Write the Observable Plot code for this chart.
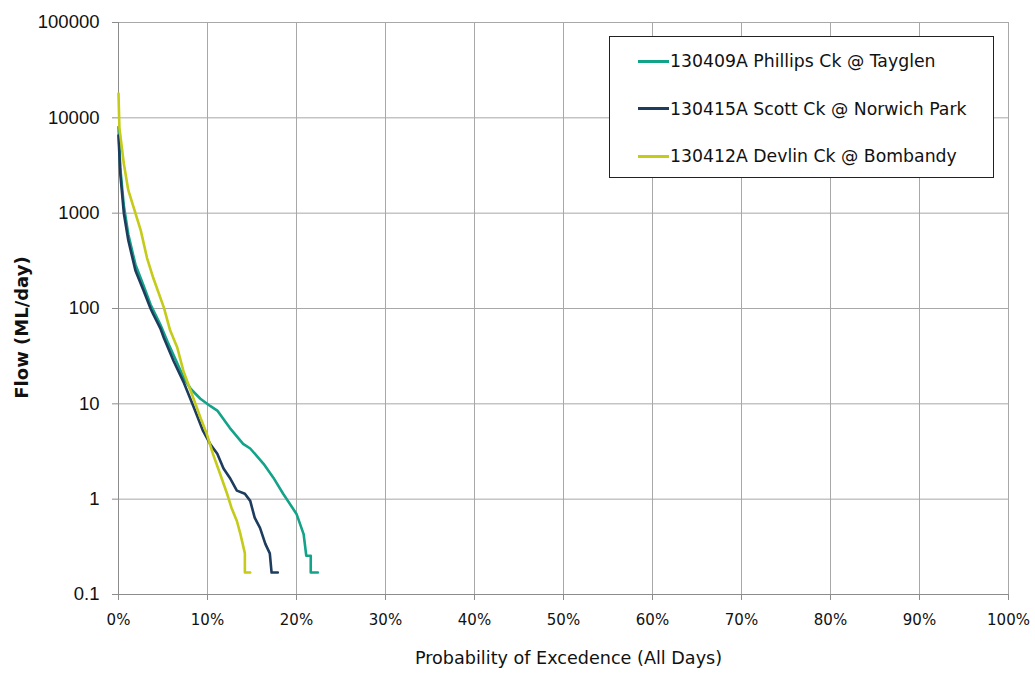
<!DOCTYPE html>
<html>
<head>
<meta charset="utf-8">
<script src="https://cdn.jsdelivr.net/npm/d3@7"></script>
<script src="https://cdn.jsdelivr.net/npm/@observablehq/plot@0.6"></script>
<style>
  html, body { margin: 0; padding: 0; background: white; }
  #wrap { position: relative; width: 1035px; height: 679px; }
  #legend { position: absolute; left: 609px; top: 36px; width: 383px; height: 140px;
    border: 1px solid #222; background: white; font-family: 'DejaVu Sans', sans-serif; font-size: 17.3px; color: #111; }
  .row { position: absolute; left: 28px; display: flex; align-items: center; height: 24px; white-space: nowrap; }
  .sw { width: 31px; height: 3px; margin-right: 1px; }
</style>
</head>
<body>
<div id="wrap"><div id="legend"></div></div>
<script>
const seriesNames = ["130409A Phillips Ck @ Tayglen", "130415A Scott Ck @ Norwich Park", "130412A Devlin Ck @ Bombandy"];
const seriesColors = ["#13a388", "#1d3c5e", "#c4cb18"];

const phillipsP = [0, 0.2, 0.6, 1.1, 1.9, 2.8, 3.6, 4.7, 5.5, 6.5, 7.3, 8.1, 9.2, 10.3, 11.1, 12.5, 14.0, 14.8, 16.3, 17.4, 18.5, 20.0, 20.8, 21.1, 21.6, 21.6, 22.4];
const phillipsQ = [8000, 3000, 1200, 600, 290, 175, 110, 68, 45, 28, 19, 14.4, 11.3, 9.5, 8.5, 5.6, 3.8, 3.4, 2.35, 1.68, 1.14, 0.7, 0.43, 0.255, 0.255, 0.17, 0.17];

const scottP = [0, 0.2, 0.6, 1.1, 1.9, 2.8, 3.6, 3.9, 4.7, 5.1, 6.2, 7.3, 8.4, 9.5, 10.3, 11.1, 11.8, 12.5, 13.3, 14.2, 14.8, 15.3, 15.9, 16.5, 17.0, 17.2, 17.9];
const scottQ = [6500, 2600, 1000, 520, 250, 155, 100, 87, 62, 49, 28, 17, 9.5, 5.2, 3.8, 3.0, 2.1, 1.68, 1.23, 1.14, 0.96, 0.64, 0.5, 0.34, 0.27, 0.17, 0.17];

const devlinP = [0, 0.1, 0.6, 1.1, 1.7, 2.5, 3.2, 3.9, 5.1, 5.8, 6.6, 7.3, 8.1, 9.2, 9.9, 10.6, 11.4, 12.2, 12.7, 13.3, 13.7, 14.2, 14.2, 14.8];
const devlinQ = [18000, 7900, 3300, 1740, 1150, 660, 340, 210, 102, 59, 39, 22, 13.8, 7.2, 4.9, 3.0, 1.86, 1.14, 0.81, 0.59, 0.43, 0.27, 0.17, 0.17];

const xTicks = [0, 10, 20, 30, 40, 50, 60, 70, 80, 90, 100];
const yTicks = [0.1, 1, 10, 100, 1000, 10000, 100000];

const allP = [phillipsP, scottP, devlinP];
const allQ = [phillipsQ, scottQ, devlinQ];
const data = [];
seriesNames.forEach((name, i) => {
  allP[i].forEach((p, j) => data.push({series: name, p, q: allQ[i][j]}));
});

const chart = Plot.plot({
  width: 1035, height: 679,
  marginLeft: 118, marginRight: 27, marginTop: 22, marginBottom: 85,
  style: {fontFamily: "'DejaVu Sans', sans-serif", fontSize: "15px", color: "#111", background: "white"},
  x: {domain: [0, 100]},
  y: {type: "log", domain: [0.1, 100000]},
  color: {domain: seriesNames, range: seriesColors},
  marks: [
    Plot.gridX(xTicks, {stroke: "#a8a8a8", strokeOpacity: 1}),
    Plot.gridY(yTicks, {stroke: "#a8a8a8", strokeOpacity: 1}),
    Plot.ruleX([0], {stroke: "#8c8c8c"}),
    Plot.ruleY([0.1], {stroke: "#8c8c8c"}),
    Plot.axisX(xTicks, {tickFormat: d => d + "%", tickSize: 6, tickPadding: 14, stroke: "#8c8c8c", label: null, fontSize: 15}),
    Plot.axisY(yTicks, {tickFormat: d => String(d), tickSize: 6, tickPadding: 13, stroke: "#8c8c8c", label: null, fontFamily: "'Liberation Sans', Arial, sans-serif", fontSize: 18.5}),
    Plot.line(data, {x: "p", y: "q", z: "series", stroke: "series", strokeWidth: 2.6}),
    Plot.text(["Probability of Excedence (All Days)"], {frameAnchor: "bottom", textAnchor: "middle", dx: 5, dy: 69, fontSize: 17.6}),
    Plot.text(["Flow (ML/day)"], {frameAnchor: "left", textAnchor: "middle", rotate: -90, dx: -96, dy: 19, fontWeight: "bold", fontSize: 18})
  ]
});
document.getElementById("wrap").prepend(chart);

const legend = document.getElementById("legend");
seriesNames.forEach((name, i) => {
  const row = document.createElement("div");
  row.className = "row";
  row.style.top = (12 + i * 47.5) + "px";
  const sw = document.createElement("div");
  sw.className = "sw";
  sw.style.background = seriesColors[i];
  const t = document.createElement("span");
  t.textContent = name;
  row.appendChild(sw); row.appendChild(t);
  legend.appendChild(row);
});
</script>
</body>
</html>
